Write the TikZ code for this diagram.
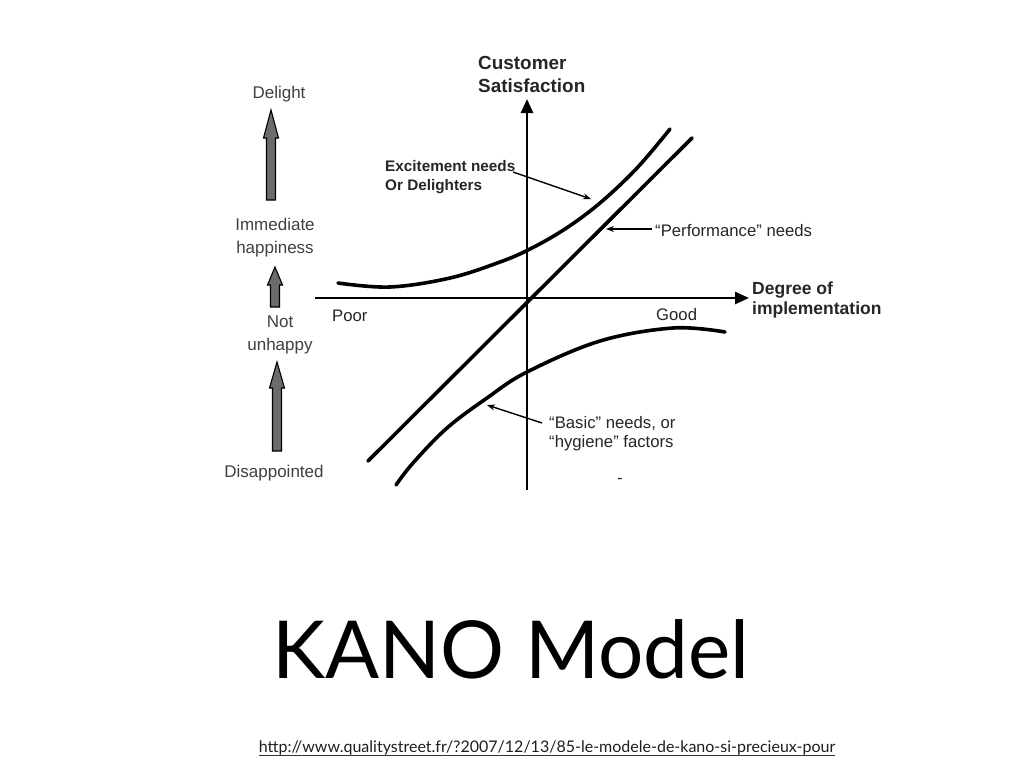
\documentclass[tikz,border=0pt]{standalone}
\usepackage{fontspec}
\setmainfont{Liberation Sans}
\newfontfamily\titlefont{Lato}
\usetikzlibrary{arrows.meta,calc}
\newcommand{\grarrow}[4]{% x, ytip, ybottom, headlength
  \draw[grarr] (#1-4.5,#3) -- (#1-4.5,#2+#4) -- (#1-7.5,#2+#4) -- (#1,#2)
    -- (#1+7.5,#2+#4) -- (#1+4.5,#2+#4) -- (#1+4.5,#3) -- cycle;}
\begin{document}
\begin{tikzpicture}[x=1pt,y=-1pt,
  lbl/.style={inner sep=0, text=black!85, font=\fontsize{16.7}{19}\selectfont, align=left, anchor=west},
  blbl/.style={lbl, font=\bfseries\fontsize{15.3}{19}\selectfont},
  axlbl/.style={lbl, font=\bfseries\fontsize{17.5}{20}\selectfont},
  cslbl/.style={lbl, font=\bfseries\fontsize{18.9}{23}\selectfont},
  side/.style={inner sep=0, text=black!75, font=\fontsize{17}{23}\selectfont, align=center},
  axis/.style={line width=2.6pt, -{Triangle[length=14pt,width=12pt]}},
  curve/.style={line width=3.6pt, line cap=round},
  pointer/.style={line width=1.4pt, -{Stealth[length=8pt,width=6pt]}},
  grarr/.style={fill=black!58, draw=black, line width=1.1pt, line join=miter},
]
\useasboundingbox[fill=white] (0,0) rectangle (1024,768);

% axes
\coordinate (xl) at (315,298);
\coordinate (xr) at (749,298);
\coordinate (yb) at (527,490);
\coordinate (yt) at (527,99);
\draw[axis] (xl) -- (xr);
\draw[axis] (yb) -- (yt);

% curves
\coordinate (pl) at (368,461);
\coordinate (pu) at (692,138);
\draw[curve] (pl) -- (pu);
\draw[curve] plot[smooth, tension=0.6] coordinates {(338,283) (390,287) (450,278) (500,262) (530,249) (565,229) (600,203) (637,168) (670,129)};
\draw[curve] plot[smooth, tension=0.6] coordinates {(396,485) (413,463) (447,428) (487,398) (527,372) (600,341) (673,328) (725,332)};

% labels
\node[cslbl] (cs) at (478,74) {Customer\\Satisfaction};
\node[axlbl] (doi) at (752,300) {Degree of\\implementation};
\node[blbl] (exc) at (385,177) {Excitement needs\\Or Delighters};
\node[lbl] (perf) at (655,231) {``Performance'' needs};
\node[lbl] (basic) at (549,434) {``Basic'' needs, or\\``hygiene'' factors};
\node[lbl] (poor) at (332,316) {Poor};
\node[lbl] (good) at (656,315) {Good};
\node[lbl] (dash) at (617,481) {-};

% pointers
\coordinate (ea) at (513,172);
\coordinate (eb) at (591,199);
\draw[pointer] (ea) -- (eb);
\coordinate (pa) at (652,229);
\coordinate (pb) at (606,229);
\draw[pointer] (pa) -- (pb);
\coordinate (ba) at (542,423);
\coordinate (bb) at (487,405);
\draw[pointer] (ba) -- (bb);

% left scale
\node[side] (delight) at (279,94) {Delight};
\node[side] (imm) at (275,238) {Immediate\\happiness};
\node[side] (notu) at (280,335) {Not\\unhappy};
\node[side] (dis) at (274,473) {Disappointed};
\grarrow{271}{110}{200}{28}
\grarrow{275}{267}{307}{18}
\grarrow{277}{362}{451}{26}

% title and source
\node[inner sep=0, anchor=base, font=\titlefont\fontsize{80}{90}\selectfont] (title) at (511,678) {KANO Model};
\node[inner sep=0, anchor=base, font=\titlefont\fontsize{16}{18}\selectfont, text=black!88] (url) at (547,752) {http://www.qualitystreet.fr/?2007/12/13/85-le-modele-de-kano-si-precieux-pour};
\draw[line width=0.9pt, black!80] ($(url.base west)+(0,3.5)$) -- ($(url.base east)+(0,3.5)$);
\end{tikzpicture}
\end{document}
